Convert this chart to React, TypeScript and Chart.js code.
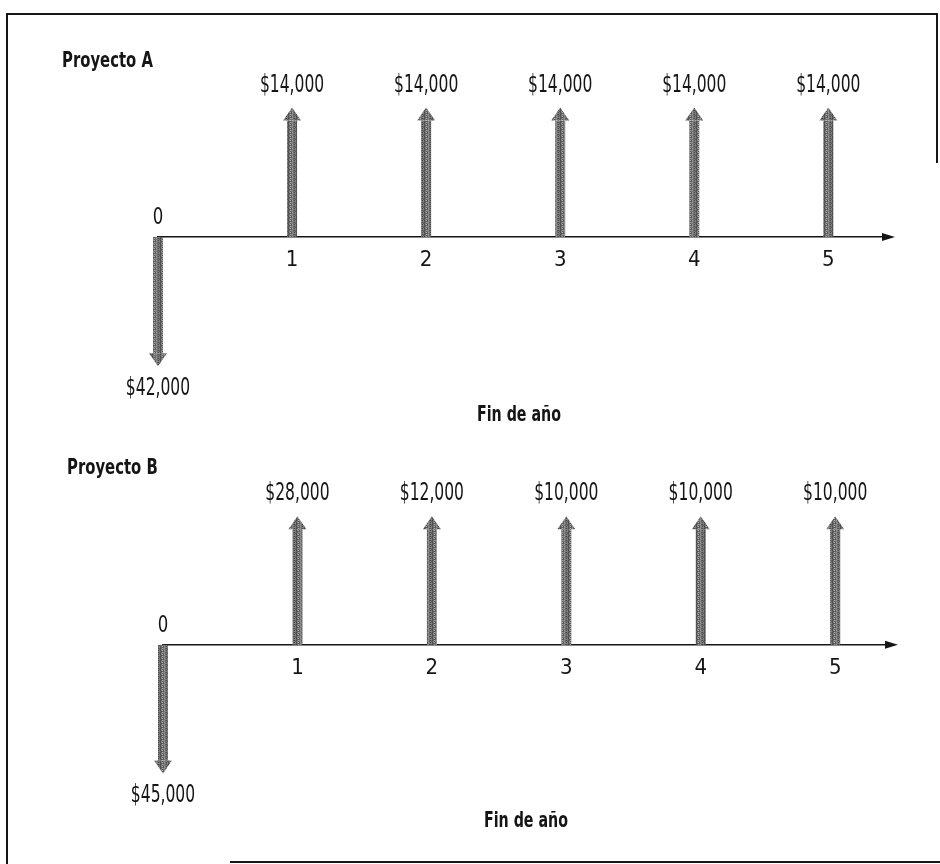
import React, { useEffect, useRef } from 'react';
import { Chart, registerables } from 'chart.js';

Chart.register(...registerables);

// ---- data ----
const years = [0, 1, 2, 3, 4, 5];
const yearLabels = ['0', '1', '2', '3', '4', '5'];
const flowsA = [-42000, 14000, 14000, 14000, 14000, 14000];
const flowsB = [-45000, 28000, 12000, 10000, 10000, 10000];
const titleA = 'Proyecto A';
const titleB = 'Proyecto B';
const axisTitle = 'Fin de año';

const FONT = '"Liberation Sans Narrow", "DejaVu Sans Condensed", "Liberation Sans", sans-serif';
const INK = '#151515';

function makePattern(ctx: CanvasRenderingContext2D) {
  const c = document.createElement('canvas');
  c.width = 8;
  c.height = 8;
  const p = c.getContext('2d')!;
  const shades = [70, 112, 150, 92, 170, 128];
  for (let i = 0; i < 8; i++) {
    for (let j = 0; j < 8; j++) {
      const k = (i * 5 + j * 3 + ((i * j) % 4)) % 6;
      const g = shades[k];
      p.fillStyle = `rgb(${g},${g},${g})`;
      p.fillRect(i, j, 1, 1);
    }
  }
  return ctx.createPattern(c, 'repeat')!;
}

function txt(
  ctx: CanvasRenderingContext2D,
  s: string,
  x: number,
  y: number,
  size: number,
  bold: boolean,
  sx = 1,
  align: CanvasTextAlign = 'center'
) {
  ctx.save();
  ctx.translate(x, y);
  ctx.scale(sx, 1);
  ctx.font = `${bold ? 'bold ' : ''}${size}px ${FONT}`;
  ctx.textAlign = align;
  ctx.textBaseline = 'middle';
  ctx.fillStyle = INK;
  ctx.fillText(s, 0, 0);
  ctx.restore();
}

interface PanelCfg {
  flows: number[];
  title: string;
  titleX: number;
  titleY: number;
  axisTitleX: number;
  axisTitleY: number;
  xMax: number;
  padding: { left: number; right: number; top: number; bottom: number };
  yMin: number;
  yMax: number;
  width: number;
  height: number;
}

function makeChart(canvas: HTMLCanvasElement, cfg: PanelCfg) {
  const ctx0 = canvas.getContext('2d')!;
  const pattern = makePattern(ctx0);
  const arrowPlugin = {
    id: 'cashArrows',
    afterDraw(chart: any) {
      const { ctx, scales } = chart;
      const x = scales.x;
      const y = scales.y;
      const base = y.getPixelForValue(0);
      // axis arrowhead
      const xe = x.getPixelForValue(cfg.xMax);
      ctx.save();
      ctx.fillStyle = INK;
      ctx.beginPath();
      ctx.moveTo(xe + 5, base);
      ctx.lineTo(xe - 8, base - 4);
      ctx.lineTo(xe - 8, base + 4);
      ctx.closePath();
      ctx.fill();
      ctx.restore();
      // zero label above axis
      txt(ctx, yearLabels[0], x.getPixelForValue(years[0]), base - 19, 23, false, 0.8);
      // arrows
      const meta = chart.getDatasetMeta(0);
      meta.data.forEach((el: any, i: number) => {
        const px = el.x;
        const tip = el.y;
        const d = tip < base ? 1 : -1; // 1 = pointing up
        const headLen = 13;
        const headHalf = 9;
        const shaftHalf = 5;
        const headBase = tip + d * headLen;
        ctx.save();
        ctx.fillStyle = pattern;
        ctx.fillRect(px - shaftHalf, Math.min(base, headBase), shaftHalf * 2, Math.abs(base - headBase));
        ctx.beginPath();
        ctx.moveTo(px, tip);
        ctx.lineTo(px - headHalf, headBase);
        ctx.lineTo(px + headHalf, headBase);
        ctx.closePath();
        ctx.fill();
        ctx.restore();
        const label = '$' + Math.abs(cfg.flows[i]).toLocaleString('en-US');
        txt(ctx, label, px, tip - d * 22, 24, false, 0.72);
      });
      txt(ctx, cfg.title, cfg.titleX, cfg.titleY, 22, true, 0.75, 'left');
      txt(ctx, axisTitle, cfg.axisTitleX, cfg.axisTitleY, 22, true, 0.72);
    },
  };

  return new Chart(canvas, {
    type: 'scatter',
    data: {
      datasets: [
        {
          data: years.map((yr, i) => ({ x: yr, y: Math.sign(cfg.flows[i]) })),
          pointRadius: 0,
          showLine: false,
        },
      ],
    },
    options: {
      animation: false,
      responsive: false,
      layout: { padding: cfg.padding },
      plugins: { legend: { display: false }, tooltip: { enabled: false } },
      scales: {
        x: {
          type: 'linear',
          min: 0,
          max: cfg.xMax,
          position: { y: 0 } as any,
          grid: { display: false, drawTicks: false },
          border: { display: true, color: INK, width: 1.6 },
          afterBuildTicks: (s: any) => {
            s.ticks = years.filter((v) => v > 0).map((v) => ({ value: v }));
          },
          ticks: {
            callback: (v: any) => yearLabels[years.indexOf(Number(v))],
            font: { family: FONT, size: 22 },
            color: INK,
            padding: 10,
            maxRotation: 0,
            autoSkip: false,
          },
        },
        y: { type: 'linear', min: cfg.yMin, max: cfg.yMax, display: false },
      },
    },
    plugins: [arrowPlugin],
  } as any);
}

const cfgA: PanelCfg = {
  flows: flowsA,
  title: titleA,
  titleX: 62,
  titleY: 61,
  axisTitleX: 519,
  axisTitleY: 415,
  xMax: 5.46,
  padding: { left: 158, right: 50, top: 30, bottom: 12 },
  yMin: -1.4,
  yMax: 1.6,
  width: 940,
  height: 430,
};

const cfgB: PanelCfg = {
  flows: flowsB,
  title: titleB,
  titleX: 67,
  titleY: 38,
  axisTitleX: 526,
  axisTitleY: 391,
  xMax: 5.43,
  padding: { left: 163, right: 47, top: 9, bottom: 39 },
  yMin: -1.4,
  yMax: 1.6,
  width: 940,
  height: 434,
};

export default function App() {
  const refA = useRef<HTMLCanvasElement>(null);
  const refB = useRef<HTMLCanvasElement>(null);
  useEffect(() => {
    document.body.style.margin = '0';
    const a = makeChart(refA.current!, cfgA);
    const b = makeChart(refB.current!, cfgB);
    return () => {
      a.destroy();
      b.destroy();
    };
  }, []);
  const line = (l: number, t: number, w: number, h: number) => (
    <div style={{ position: 'absolute', left: l, top: t, width: w, height: h, background: INK }} />
  );
  return (
    <div style={{ position: 'relative', width: 940, height: 864, background: '#fff', overflow: 'hidden' }}>
      {line(6, 13, 932, 2)}
      {line(6, 13, 2, 851)}
      {line(936, 13, 2, 150)}
      {line(230, 861, 710, 2)}
      <canvas
        ref={refA}
        width={cfgA.width}
        height={cfgA.height}
        style={{ position: 'absolute', left: 0, top: 0, width: cfgA.width, height: cfgA.height }}
      />
      <canvas
        ref={refB}
        width={cfgB.width}
        height={cfgB.height}
        style={{ position: 'absolute', left: 0, top: 430, width: cfgB.width, height: cfgB.height }}
      />
    </div>
  );
}
